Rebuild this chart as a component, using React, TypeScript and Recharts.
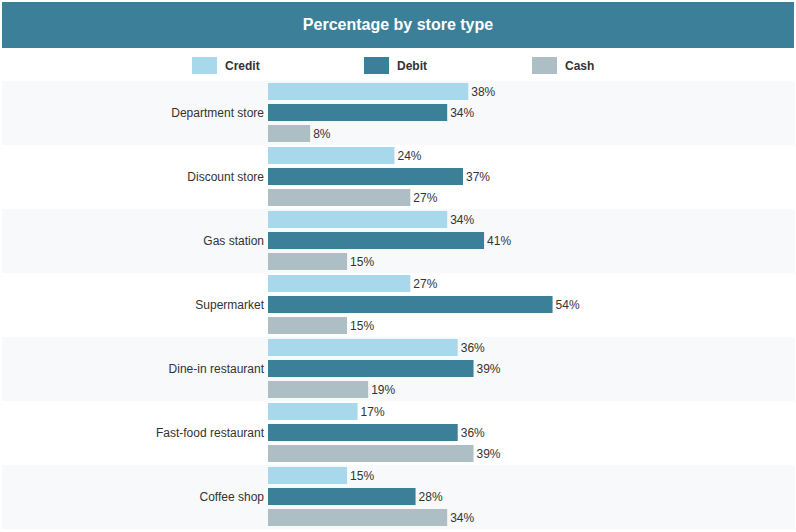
import React from 'react';
import { BarChart, Bar, XAxis, YAxis, LabelList, ReferenceArea } from 'recharts';

// values (percent)
const storeTypes = [
  'Department store',
  'Discount store',
  'Gas station',
  'Supermarket',
  'Dine-in restaurant',
  'Fast-food restaurant',
  'Coffee shop',
];
const credit = [38, 24, 34, 27, 36, 17, 15];
const debit = [34, 37, 41, 54, 39, 36, 28];
const cash = [8, 27, 15, 15, 19, 39, 34];

const series = [
  { key: 'credit', name: 'Credit', color: '#a8d8ec' },
  { key: 'debit', name: 'Debit', color: '#3c7f98' },
  { key: 'cash', name: 'Cash', color: '#adbfc5' },
];

const data = storeTypes.map((name, i) => ({
  name,
  credit: credit[i],
  debit: debit[i],
  cash: cash[i],
}));

const FONT = '"Liberation Sans", Arial, Helvetica, sans-serif';

// stripe spans the full card width, band height comes from the category scale
const Stripe = ({ y, height }: any) => <rect x={2} y={y} width={793} height={height} fill="#f7f9fa" />;

const LegendRow = () => (
  <div style={{ position: 'absolute', top: 57, left: 192, display: 'flex', fontFamily: FONT }}>
    {series.map((s, i) => (
      <div key={s.key} style={{ display: 'flex', alignItems: 'center', width: i === 0 ? 172 : 168 }}>
        <span style={{ display: 'inline-block', width: 25, height: 17, background: s.color, marginRight: 8 }} />
        <span style={{ fontSize: 12, fontWeight: 'bold', color: '#333' }}>{s.name}</span>
      </div>
    ))}
  </div>
);

export default function App() {
  return (
    <div style={{ position: 'absolute', left: 0, top: 0, width: 796, height: 532, background: '#fff', fontFamily: FONT }}>
      <div
        style={{
          position: 'absolute',
          left: 2,
          top: 2,
          width: 792,
          height: 46,
          background: '#3c7f98',
          color: '#fff',
          fontWeight: 'bold',
          fontSize: 16,
          lineHeight: '46px',
          textAlign: 'center',
        }}
      >
        Percentage by store type
      </div>
      <LegendRow />
      <BarChart
        width={796}
        height={532}
        data={data}
        layout="vertical"
        margin={{ top: 81, right: 1, bottom: 3, left: 0 }}
        barCategoryGap={2}
        barGap={4}
      >
        <XAxis type="number" domain={[0, 100]} hide />
        <YAxis
          type="category"
          dataKey="name"
          width={268}
          axisLine={false}
          tickLine={false}
          tickSize={0}
          tickMargin={4}
          interval={0}
          tick={{ fontSize: 12, fill: '#333', fontFamily: FONT }}
        />
        {storeTypes
          .filter((_, i) => i % 2 === 0)
          .map((name) => (
            <ReferenceArea key={name} y1={name} y2={name} ifOverflow="visible" shape={<Stripe />} />
          ))}
        {series.map((s) => (
          <Bar key={s.key} dataKey={s.key} name={s.name} fill={s.color} isAnimationActive={false}>
            <LabelList
              dataKey={s.key}
              position="right"
              offset={3}
              formatter={(v: any) => `${v}%`}
              style={{ fontSize: 12, fill: '#333', fontFamily: FONT }}
            />
          </Bar>
        ))}
      </BarChart>
    </div>
  );
}
